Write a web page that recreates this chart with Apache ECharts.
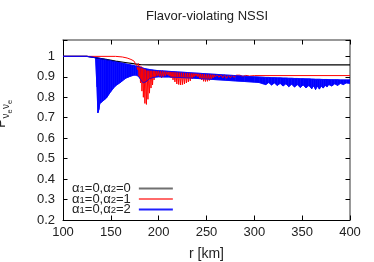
<!DOCTYPE html>
<html><head><meta charset="utf-8">
<script src="https://cdn.jsdelivr.net/npm/echarts@6/dist/echarts.min.js"></script>
<style>html,body{margin:0;padding:0;background:#fff}#c{width:374px;height:262px}</style>
</head><body><div id="c"></div>
<script>
const titleText = 'Flavor-violating NSSI';
const xName = 'r [km]';
const seriesNames = ['α1=0,α2=0', 'α1=0,α2=1', 'α1=0,α2=2'];
const xRange = [100, 400, 50];
const yRange = [0.2, 1.08, 0.1];

// black curve [r, P]
const blackCurve = [[100,1],[125,1],[130,0.997],[135,0.993],[145,0.985],[155,0.977],[165,0.97],[175,0.963],[182,0.959],[190,0.958],[400,0.958]];

// red curve [r, P]
const redCurve = [[100,1],[155,1],[162,0.997],[167,0.992],[171,0.985],[174,0.978],[176,0.97],[177,0.955],[178,0.935],[178.7,0.965],[179.5,0.9],[180.3,0.955],[181,0.87],[181.8,0.95],[182.5,0.83],[183.3,0.945],[184,0.80],[184.8,0.94],[185.6,0.77],[186.4,0.935],[187.2,0.765],[188,0.93],[188.8,0.79],[189.6,0.93],[190.4,0.82],[191.2,0.93],[192,0.845],[192.8,0.93],[193.6,0.86],[194.4,0.93],[195.2,0.885],[196,0.93],[197,0.9],[198,0.93],[199,0.905],[200,0.93],[201,0.9],[202,0.93],[203,0.895],[204,0.93],[205,0.9],[206,0.928],[207,0.905],[208,0.927],[209,0.91],[210,0.925],[211,0.905],[212,0.926],[213,0.895],[214,0.925],[215,0.885],[216,0.925],[217,0.875],[218,0.924],[219,0.865],[220,0.923],[221,0.862],[222,0.922],[223,0.86],[224,0.922],[225,0.862],[226,0.921],[227,0.865],[228,0.92],[229,0.87],[230,0.92],[231,0.875],[232,0.919],[233,0.88],[234,0.918],[235,0.89],[236,0.918],[237,0.9],[238,0.917],[239,0.905],[240,0.916],[241,0.9],[242,0.916],[243,0.89],[244,0.915],[245,0.885],[246,0.914],[247,0.878],[248,0.914],[249,0.877],[250,0.913],[251,0.878],[252,0.913],[253,0.882],[254,0.912],[255,0.888],[256,0.912],[257,0.895],[258,0.911],[259,0.9],[261,0.911],[263,0.898],[265,0.91],[267,0.895],[269,0.91],[271,0.893],[273,0.909],[275,0.895],[277,0.909],[279,0.897],[281,0.908],[283,0.9],[285,0.908],[288,0.902],[291,0.907],[295,0.904],[300,0.906],[400,0.906]];

// blue oscillation band [r, lower envelope, upper envelope]
const blueBand = [[100,1,1],[125,1,1],[130,0.996,0.997],[134,0.993,0.994],[135.5,0.85,0.993],[136.5,0.724,0.992],[137.5,0.74,0.991],[138.5,0.77,0.99],[140,0.775,0.989],[142,0.783,0.987],[144,0.79,0.985],[146,0.80,0.983],[148,0.815,0.981],[150,0.828,0.979],[152,0.84,0.977],[154,0.852,0.975],[156,0.86,0.973],[158,0.866,0.971],[160,0.872,0.969],[162,0.88,0.967],[164,0.888,0.965],[166,0.894,0.963],[168,0.898,0.961],[170,0.902,0.959],[172,0.905,0.957],[174,0.908,0.955],[176,0.91,0.953],[178,0.905,0.951],[180,0.895,0.948],[182,0.88,0.945],[184,0.87,0.942],[186,0.872,0.94],[188,0.88,0.938],[190,0.89,0.936],[193,0.895,0.934],[196,0.898,0.932],[200,0.9,0.93],[205,0.899,0.929],[210,0.899,0.927],[220,0.897,0.924],[230,0.895,0.921],[240,0.892,0.918],[250,0.889,0.915],[260,0.886,0.912],[270,0.883,0.909],[280,0.88,0.906],[290,0.877,0.903],[300,0.874,0.9],[305,0.872,0.899],[309,0.866,0.898],[312,0.862,0.897],[315,0.872,0.897],[318,0.86,0.896],[321,0.87,0.896],[324,0.858,0.895],[327,0.868,0.895],[330,0.855,0.894],[333,0.866,0.894],[336,0.852,0.893],[339,0.864,0.893],[342,0.85,0.892],[345,0.862,0.892],[348,0.848,0.891],[351,0.86,0.891],[354,0.846,0.89],[357,0.858,0.89],[360,0.842,0.889],[362,0.856,0.889],[364,0.838,0.888],[366,0.855,0.888],[368,0.84,0.888],[370,0.855,0.887],[372,0.845,0.887],[374,0.858,0.887],[376,0.85,0.887],[378,0.862,0.886],[381,0.855,0.886],[384,0.866,0.886],[387,0.858,0.886],[390,0.868,0.885],[393,0.862,0.885],[396,0.87,0.885],[400,0.868,0.885]];

const FF = '"Liberation Sans", Arial, sans-serif';
const chart = echarts.init(document.getElementById('c'));

function tickLabel(v) {
  const t = v * 10;
  if (Math.abs(t - Math.round(t)) > 1e-6) return '';
  return String(+v.toFixed(1));
}
function legendFmt(name) {
  return '{a|' + name.replace(/α(\d)/g, '}{a|α}{s|$1}{a|') + '}';
}
const baseAxis = {
  type: 'value', splitLine: {show: false},
  axisTick: {inside: true, length: 4.5, lineStyle: {color: '#000'}},
};
chart.setOption({
  animation: false,
  grid: {left: 63, right: 24, top: 40, bottom: 42, containLabel: false, outerBoundsMode: 'none'},
  xAxis: [
    Object.assign({}, baseAxis, {
      min: xRange[0], max: xRange[1], interval: xRange[2], position: 'bottom',
      axisLine: {lineStyle: {color: '#000', width: 1}},
      axisLabel: {fontSize: 13, color: '#222', margin: 6, fontFamily: FF},
      name: xName, nameLocation: 'middle', nameGap: 27,
      nameTextStyle: {fontSize: 14, color: '#222', fontFamily: FF}
    }),
    Object.assign({}, baseAxis, {
      min: xRange[0], max: xRange[1], interval: xRange[2], position: 'top',
      axisLine: {lineStyle: {color: '#777', width: 1.5}},
      axisLabel: {show: false}
    })
  ],
  yAxis: [
    Object.assign({}, baseAxis, {
      min: yRange[0], max: yRange[1], interval: yRange[2], position: 'left',
      axisLine: {show: true, lineStyle: {color: '#000', width: 1}},
      axisLabel: {fontSize: 13, color: '#222', margin: 8, fontFamily: FF, formatter: tickLabel}
    }),
    Object.assign({}, baseAxis, {
      min: yRange[0], max: yRange[1], interval: yRange[2], position: 'right',
      axisLine: {show: true, lineStyle: {color: '#777', width: 1.5}},
      axisLabel: {show: false}
    })
  ],
  legend: {
    orient: 'vertical', left: 67, top: 177, align: 'right',
    itemWidth: 34, itemHeight: 2, itemGap: -2.5, icon: 'rect',
    data: [
      {name: seriesNames[0], itemStyle: {color: '#707070'}},
      {name: seriesNames[1], itemStyle: {color: '#ff6a6a'}},
      {name: seriesNames[2], itemStyle: {color: '#2020ff'}}
    ],
    formatter: legendFmt,
    textStyle: {
      color: '#222', fontFamily: FF, padding: [0, 3, 0, 0],
      rich: {
        a: {fontSize: 13, lineHeight: 12, fontFamily: FF, color: '#222'},
        s: {fontSize: 9.5, lineHeight: 3, verticalAlign: 'bottom', fontFamily: FF, color: '#222'}
      }
    }
  },
  graphic: [
    {type: 'text', x: 207, y: 10, style: {text: titleText, align: 'center', verticalAlign: 'top', fontSize: 13, fontFamily: FF, fill: '#222'}},
    {type: 'group', x: 8, y: 128, rotation: Math.PI / 2, children: [
      {type: 'text', x: 0, y: 0, style: {text: 'P', align: 'left', verticalAlign: 'bottom', fontSize: 14, fontFamily: FF, fill: '#222'}},
      {type: 'text', x: 9.5, y: 3, style: {text: 'ν', align: 'left', verticalAlign: 'bottom', fontSize: 10, fontFamily: FF, fill: '#222'}},
      {type: 'text', x: 14.5, y: 6, style: {text: 'e', align: 'left', verticalAlign: 'bottom', fontSize: 7.5, fontFamily: FF, fill: '#222'}},
      {type: 'text', x: 19, y: 3, style: {text: 'ν', align: 'left', verticalAlign: 'bottom', fontSize: 10, fontFamily: FF, fill: '#222'}},
      {type: 'text', x: 24, y: 6, style: {text: 'e', align: 'left', verticalAlign: 'bottom', fontSize: 7.5, fontFamily: FF, fill: '#222'}}
    ]}
  ],
  series: [
    {type: 'line', name: seriesNames[0], data: blackCurve, symbol: 'none', color: '#000', lineStyle: {color: '#000', width: 1.2}},
    {type: 'line', name: seriesNames[1], data: redCurve, symbol: 'none', color: '#f00', lineStyle: {color: '#f00', width: 1}},
    {type: 'custom', name: 'blueFill', data: blueBand, silent: true, clip: true,
      encode: {x: 0, y: [1, 2]},
      renderItem: function (params, api) {
        const i = params.dataIndex;
        if (i >= blueBand.length - 1) return null;
        const n = blueBand[i + 1];
        const pts = [
          api.coord([api.value(0), api.value(1)]),
          api.coord([api.value(0), api.value(2)]),
          api.coord([n[0], n[2]]),
          api.coord([n[0], n[1]])
        ];
        return {type: 'polygon', shape: {points: pts}, style: {fill: '#00f', stroke: '#00f', lineWidth: 0.6}};
      }
    },
    {type: 'line', name: seriesNames[2], data: blueBand.map(d => [d[0], d[1]]), symbol: 'none', color: '#00f', lineStyle: {color: '#00f', width: 0.8}},
    {type: 'line', name: 'blueUpper', data: blueBand.map(d => [d[0], d[2]]), symbol: 'none', color: '#00f', lineStyle: {color: '#00f', width: 0.8}}
  ]
});
</script></body></html>
